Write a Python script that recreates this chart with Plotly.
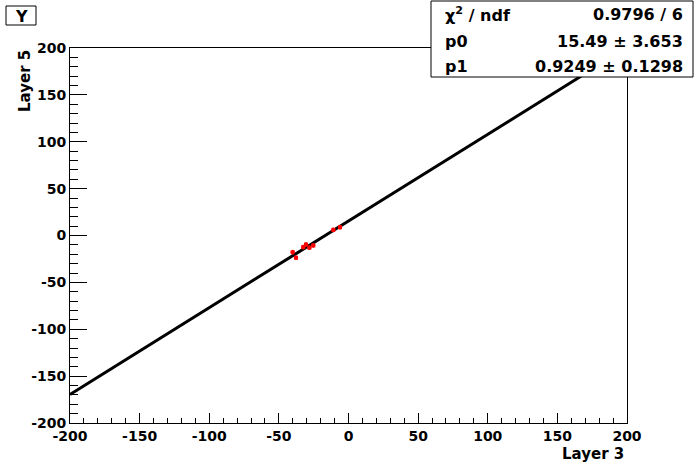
import plotly.graph_objects as go

# Data
x_points = [-40.1, -37.7, -32.5, -30.5, -28.1, -25.3, -10.9, -6.1]
y_points = [-17.8, -23.7, -12.4, -9.6, -13.0, -10.6, 6.0, 8.8]
p0 = 15.49
p1 = 0.9249
fit_x = [-200, 199.5]
fit_y = [p0 + p1 * v for v in fit_x]

tick_vals = [-200, -150, -100, -50, 0, 50, 100, 150, 200]
tick_text = ["-200", "-150", "-100", "-50", "0", "50", "100", "150", "200"]

stats_labels = ["χ<sup>2</sup> / ndf", "p0", "p1"]
stats_values = ["0.9796 / 6", "15.49 ± 3.653", "0.9249 ± 0.1298"]

W, H = 696, 472
L, R, T, B = 70, 627, 48, 423

def xp(px):
    return (px - L) / (R - L)

def yp(py):
    return (B - py) / (B - T)

FONT = "DejaVu Sans, Liberation Sans, Arial, sans-serif"

fig = go.Figure()
fig.add_trace(go.Scatter(x=fit_x, y=fit_y, mode="lines",
                         line=dict(color="black", width=3), showlegend=False))
fig.add_trace(go.Scatter(x=x_points, y=y_points, mode="markers",
                         marker=dict(color="red", size=4, symbol="square"),
                         error_y=dict(type="constant", value=2.5, color="red", thickness=1.5, width=0),
                         error_x=dict(type="constant", value=1.5, color="red", thickness=1.5, width=0),
                         showlegend=False))

axis_common = dict(
    showgrid=False, zeroline=False, showline=True, linecolor="black", linewidth=1,
    mirror=True, ticks="inside", tickcolor="black", tickwidth=1,
    tickfont=dict(family=FONT, size=14, color="black", weight="bold"),
    range=[-200, 200], tickmode="array", tickvals=tick_vals, ticktext=tick_text,
)
fig.update_xaxes(**axis_common, ticklen=10,
                 minor=dict(ticks="inside", ticklen=5, dtick=10, tick0=0, tickcolor="black"))
fig.update_yaxes(**axis_common, ticklen=17,
                 minor=dict(ticks="inside", ticklen=8, dtick=10, tick0=0, tickcolor="black"))

shapes = []
annotations = []
# Stats box
shapes.append(dict(type="rect", xref="paper", yref="paper",
                   x0=xp(431), x1=xp(693), y0=yp(77), y1=yp(1),
                   line=dict(color="black", width=1), fillcolor="white", layer="above"))
rows_y = [15, 41, 67]
for lab, val, ry in zip(stats_labels, stats_values, rows_y):
    annotations.append(dict(xref="paper", yref="paper", x=xp(443), y=yp(ry), text=lab,
                            xanchor="left", yanchor="middle", showarrow=False,
                            font=dict(family=FONT, size=16, color="black", weight="bold")))
    annotations.append(dict(xref="paper", yref="paper", x=xp(685), y=yp(ry), text=val,
                            xanchor="right", yanchor="middle", showarrow=False,
                            font=dict(family=FONT, size=16, color="black", weight="bold")))
# Title box "Y"
shapes.append(dict(type="rect", xref="paper", yref="paper",
                   x0=xp(6), x1=xp(36), y0=yp(25), y1=yp(6),
                   line=dict(color="black", width=1), fillcolor="white", layer="above"))
annotations.append(dict(xref="paper", yref="paper", x=xp(21), y=yp(16), text="Y",
                        xanchor="center", yanchor="middle", showarrow=False,
                        font=dict(family=FONT, size=16, color="black", weight="bold")))
# Axis titles
annotations.append(dict(xref="paper", yref="paper", x=xp(626), y=yp(454), text="Layer 3",
                        xanchor="right", yanchor="middle", showarrow=False,
                        font=dict(family=FONT, size=15, color="black", weight="bold")))
annotations.append(dict(xref="paper", yref="paper", x=xp(25), y=yp(48), text="Layer 5",
                        xanchor="center", yanchor="top", textangle=-90, showarrow=False,
                        font=dict(family=FONT, size=15, color="black", weight="bold")))

fig.update_layout(
    width=W, height=H,
    margin=dict(l=L, r=W - R, t=T, b=H - B, pad=0),
    paper_bgcolor="white", plot_bgcolor="white",
    shapes=shapes, annotations=annotations,
)

fig.write_html("out.html", config={"displayModeBar": False},
               post_script="document.body.style.margin='0';")
